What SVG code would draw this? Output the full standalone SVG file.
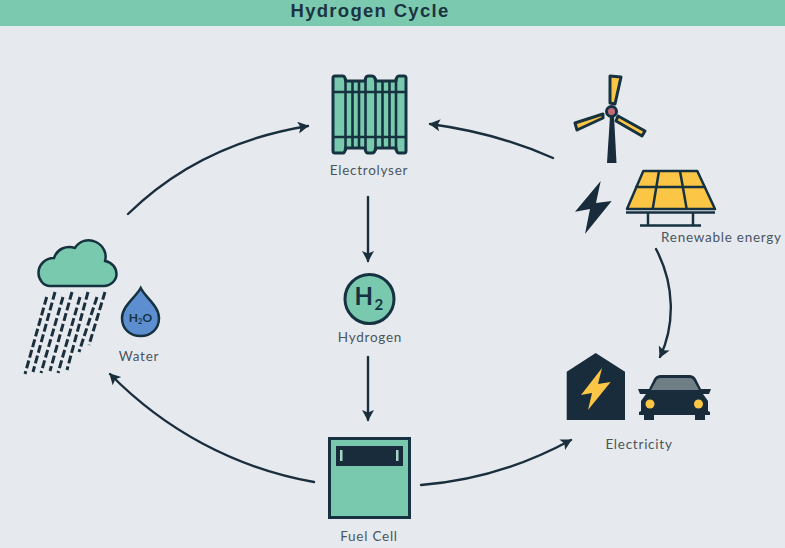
<svg xmlns="http://www.w3.org/2000/svg" width="785" height="548" viewBox="0 0 785 548">
<style>
.lb{font-family:"Lato","Liberation Sans",sans-serif;font-size:13.5px;fill:#4b555e;letter-spacing:.75px;text-anchor:middle}
.ln{fill:none;stroke:#1a2e3c;stroke-width:2.4;stroke-linecap:round}
.ol{stroke:#163240;stroke-width:3;stroke-linejoin:round}
.mint{fill:#79c9ae}
.yl{fill:#fbc545}
.dk{fill:#182c3b}
.h{font-family:"Lato","Liberation Sans",sans-serif;font-weight:700;fill:#163240}
</style>
<defs>
<marker id="a" markerUnits="userSpaceOnUse" markerWidth="14" markerHeight="14" refX="10" refY="6" orient="auto"><path d="M0 0L11 6L0 12L2.500 6Z" fill="#1a2e3c"/></marker>
</defs>
<rect width="785" height="548" fill="#e6eaee"/>
<g id="title"><rect width="785" height="26" fill="#7bcab0"/><text x="370" y="17" font-family="'Liberation Sans',sans-serif" font-weight="700" font-size="18.500" letter-spacing="1.300" fill="#1b3442" text-anchor="middle">Hydrogen Cycle</text></g>
<g id="connectors">
<path class="ln" marker-end="url(#a)" d="M128 214C175 168 235 138 308 126"/>
<path class="ln" marker-end="url(#a)" d="M553 158C515 141 475 130 430 124"/>
<path class="ln" marker-end="url(#a)" d="M368 197V261"/>
<path class="ln" marker-end="url(#a)" d="M368 357V420"/>
<path class="ln" marker-end="url(#a)" d="M314 482C235 468 165 430 110 374"/>
<path class="ln" marker-end="url(#a)" d="M421 485C475 481 525 465 571 440"/>
<path class="ln" marker-end="url(#a)" d="M656 249C675 285 675 325 660 357"/>
</g>
<g id="electrolyser">
<path class="mint ol" d="M333 78Q333 76 335 76H343Q345 76 345.500 81H365Q365.500 76 368 76H372Q375 76 375.500 81H396Q396.500 76 399 76H404Q406 76 406 78V151Q406 153 404 153H399Q396.500 153 396 148H375.500Q375 153 372 153H368Q365.500 153 365 148H345.500Q345 153 343 153H335Q333 153 333 151Z"/>
<path d="M345.500 78V151M352.500 81V148M359 81V148M365.500 78V151M375.500 78V151M382.500 81V148M389.500 81V148M396 78V151M333 92H406M333 137H406" stroke="#163240" stroke-width="2.600" fill="none"/>
<text class="lb" x="369" y="175">Electrolyser</text>
</g>
<g id="renewable-energy">
<path class="yl ol" d="M610 103V76L621 77L615 104Z"/>
<path class="yl ol" d="M603 114L575 123L577 130L603 118Z"/>
<path class="yl ol" d="M618 116L645 131L642 136L616 121Z"/>
<path class="dk" d="M610 116H614L616.500 163H607Z"/>
<circle cx="611.500" cy="111.500" r="5" fill="#c66a78" stroke="#163240" stroke-width="3"/>
<path class="dk" d="M600.700 181L575 211.700L590 209L585 234L611.700 201L596 203Z"/>
<path class="yl" d="M643.300 171H697.300L715 209H627Z"/>
<path d="M643.300 171H697.300L715 209H627ZM635 187H706M659 171L652.700 209M680 171L686.700 209M626 212.500H715M648 212V225M693 212V225M640 225.500H701" fill="none" stroke="#163240" stroke-width="2.500" stroke-linejoin="round"/>
<text class="lb" x="661" y="242" style="text-anchor:start">Renewable energy</text>
</g>
<g id="hydrogen">
<circle cx="369.500" cy="299" r="24.500" class="mint" stroke="#163240" stroke-width="3"/>
<text class="h" x="354.500" y="305" font-size="24">H</text>
<text class="h" x="374.500" y="310" font-size="15">2</text>
<text class="lb" x="370" y="342">Hydrogen</text>
</g>
<g id="water">
<path class="mint" stroke="#163240" stroke-width="2.500" stroke-linejoin="round" d="M50 286C43 286 38.500 279 38.500 273C38.500 265 45 258 54 258C57 249 66 245 75 248C79 241 88 238 96 242C104 246 107 254 105 261C112 262 116.500 268 116.500 274C116.500 281 110 286 104 286Z"/>
<g stroke="#1a2e3c" stroke-width="3" stroke-dasharray="8 3" fill="none">
<path d="M46.700 297L25 374M55 292L33 372M63 297L41 373M72 292L50 371M80 297L58 373M88 292L67 370M97 297L79 352M105 292L89 345"/>
</g>
<path d="M140.700 288C136 297 122 306 122 318C122 329 130 336 140.700 336C151 336 159 329 159 318C159 306 145 297 140.700 288Z" fill="#5d8fd0" stroke="#163240" stroke-width="2.500"/>
<text class="h" x="140.500" y="322" font-size="12" text-anchor="middle">H<tspan font-size="7.500" dy="2">2</tspan><tspan dy="-2">O</tspan></text>
<text class="lb" x="139" y="361">Water</text>
</g>
<g id="fuel-cell">
<rect x="329.500" y="438.500" width="80" height="79" class="mint" stroke="#163240" stroke-width="3"/>
<rect x="336" y="446" width="67" height="20" class="dk"/>
<rect x="340" y="450" width="2.500" height="11" fill="#a9d5c6"/>
<rect x="396" y="450" width="2.500" height="11" fill="#a9d5c6"/>
<text class="lb" x="369" y="541">Fuel Cell</text>
</g>
<g id="electricity">
<path class="dk" d="M566.700 371.700L595.700 353L625 371.700V420H566.700Z"/>
<path class="yl" d="M602 368L581 395L592 393L588 410L610.700 382L598 384Z"/>
<path class="dk" d="M649 389L654 379Q656 375 661 375H689Q694 375 696 379L701 389H711L709 394H703L708 401V411L710 412V415H705V420H695V415H654V420H644V415H639V412L641 411V401L646 394H640L638 389Z"/>
<path d="M651 390L656 381Q657 378 661 378H689Q693 378 694 381L699 390Z" fill="#6f7f85"/>
<circle cx="650" cy="404" r="4.500" class="yl"/>
<circle cx="698.500" cy="404" r="4.500" class="yl"/>
<text class="lb" x="639" y="449">Electricity</text>
</g>
</svg>
